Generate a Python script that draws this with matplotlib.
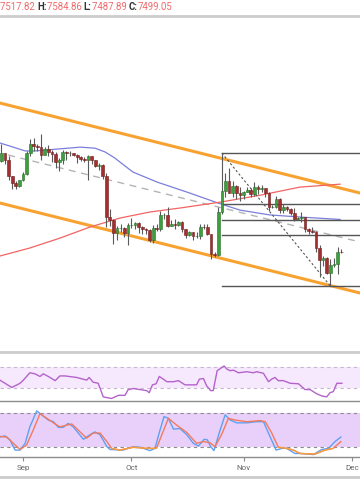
import matplotlib.pyplot as plt
import numpy as np

# 日线数据 (day 0 = Aug 25)
opens = [10140, 10130, 10360, 10170, 9710, 9490, 9420, 9580, 9760, 10380,
         10620, 10580, 10550, 10310, 10480, 10400, 10330, 10100, 10160, 10410,
         10360, 10360, 10310, 10260, 10190, 10160, 10270, 10170, 9990, 10030,
         9700, 8530, 8430, 8060, 8190, 8210, 8050, 8300, 8300, 8340,
         8220, 8160, 8150, 7870, 8210, 8180, 8590, 8590, 8260, 8310,
         8280, 8370, 8160, 8000, 8080, 7960, 7960, 8240, 8230, 8020,
         7460, 7430, 8660, 9260, 9550, 9220, 9430, 9200, 9150, 9250,
         9310, 9190, 9400, 9320, 9350, 9210, 8800, 8810, 9040, 8730,
         8820, 8760, 8640, 8470, 8500, 8510, 8170, 8120, 8080, 7620,
         7290, 7330, 6910, 7130, 7160, 7518]
highs = [10290, 10620, 10380, 10280, 9720, 9560, 9600, 9820, 10440, 10780,
         10800, 10640, 10920, 10550, 10600, 10470, 10400, 10220, 10450, 10440,
         10420, 10380, 10350, 10270, 10260, 10300, 10270, 10170, 10090, 10040,
         9780, 8740, 8450, 8260, 8320, 8220, 8350, 8480, 8380, 8370,
         8260, 8200, 8170, 8300, 8330, 8680, 8640, 8800, 8420, 8460,
         8400, 8400, 8170, 8120, 8100, 8100, 8310, 8330, 8310, 8040,
         7500, 8800, 10370, 9800, 9950, 9560, 9440, 9400, 9280, 9380,
         9370, 9530, 9460, 9440, 9370, 9230, 8880, 9130, 9070, 8900,
         8840, 8790, 8770, 8530, 8660, 8510, 8200, 8220, 8120, 7700,
         7380, 7360, 7300, 7340, 7650, 7585]
lows = [9920, 10120, 10050, 9600, 9330, 9330, 9400, 9550, 9740, 10290,
        10420, 10430, 10160, 10300, 10290, 10120, 9940, 9860, 10060, 10160,
        10290, 10290, 10080, 10140, 10120, 9600, 10050, 9970, 9870, 9620,
        8240, 8270, 7750, 7860, 8080, 7950, 7720, 8200, 8180, 8070,
        8020, 8040, 7800, 7780, 8120, 8120, 8460, 8230, 8250, 8180,
        8250, 8100, 7920, 7960, 7850, 7900, 7880, 8160, 8000, 7300,
        7360, 7400, 8600, 9100, 9200, 9100, 9040, 8980, 9050, 9230,
        9100, 9140, 9180, 9250, 9100, 8700, 8770, 8770, 8630, 8650,
        8700, 8580, 8400, 8420, 8390, 8080, 8020, 8050, 7500, 6800,
        7100, 6860, 6526, 7070, 6870, 7488]
closes = opens[1:] + [7499]

# 均线
ma50_x = [0.6, 3.4, 7.6, 10.3, 17.2, 22.8, 26.9, 29.7, 32.4, 33.8, 37.4, 44.1,
          53.2, 60.9, 67.0, 75.3, 83.6, 94.7]
ma50_y = [10660, 10570, 10430, 10430, 10490, 10540, 10510, 10400, 10225, 10110,
          9820, 9530, 9210, 8925, 8720, 8580, 8520, 8450]
ma200_x = [0.6, 8.9, 17.2, 25.5, 33.8, 42.1, 50.4, 61.5, 72.6, 83.6, 94.7]
ma200_y = [7393, 7625, 7910, 8230, 8490, 8665, 8780, 8950, 9150, 9385, 9470]

# 通道 / 趋势线 / 斐波那契
chan_x = [0.6, 100.2]
chan_top = [11815, 9214]
chan_bot = [8925, 6324]
trend_x = [2.9, 100.2]
trend_y = [10312, 7798]
fib_x0 = 62
fib_levels = [10370, 8902, 8448, 7994, 6526]
fib_diag_x = [62, 92]
fib_diag_y = [10370, 6526]

# RSI
rsi_x = [0.6, 3.9, 6.2, 7.1, 8.9, 10.3, 11.7, 12.6, 14.0, 15.9, 17.2, 18.6,
         21.9, 24.6, 25.3, 26.4, 27.8, 29.2, 31.5, 33.4, 35.2, 36.1, 37.5,
         41.2, 41.9, 42.8, 43.8, 44.7, 46.8, 48.6, 50.0, 51.8, 53.7, 55.0,
         55.8, 56.9, 57.8, 58.9, 59.6, 60.7, 62.6, 63.4, 64.3, 65.2, 66.6,
         68.9, 70.7, 71.6, 73.5, 74.9, 75.8, 76.7, 77.6, 79.0, 80.9, 83.2,
         85.0, 86.4, 88.2, 89.6, 91.0, 91.9, 92.8, 93.8, 95.2]
rsi_y = [45, 31, 39, 45, 59, 57, 52, 57, 52, 44, 53, 53,
         50, 45, 50, 41, 39, 13, 10, 16, 16, 27, 29,
         25, 21, 36, 38, 52, 42, 42, 44, 36, 36, 36,
         47, 48, 34, 25, 25, 63, 72, 66, 63, 64, 59,
         61, 59, 61, 58, 42, 47, 50, 44, 44, 39, 38,
         27, 27, 19, 15, 13, 21, 23, 39, 39]

# Stochastic
k_x = [0.6, 2.0, 3.4, 4.8, 6.2, 7.6, 8.9, 10.8, 12.2, 14.0, 15.4, 16.8, 18.1,
       19.5, 20.9, 23.7, 25.5, 26.9, 28.3, 30.2, 31.1, 34.7, 37.5, 39.4, 42.1,
       43.5, 44.7, 46.0, 47.2, 48.6, 50.4, 52.3, 54.1, 55.5, 57.1, 58.0, 58.9,
       59.8, 61.5, 62.9, 64.3, 66.1, 68.9, 71.6, 73.5, 75.3, 77.0, 78.6, 79.9,
       82.2, 84.1, 87.3, 89.6, 91.5, 93.3, 94.9]
k_y = [38, 40, 33, 15, 15, 27, 56, 84, 77, 68, 65, 55, 55,
       62, 56, 34, 42, 47, 42, 21, 16, 15, 21, 20, 14,
       18, 46, 74, 71, 52, 53, 42, 27, 22, 34, 33, 21,
       14, 50, 77, 68, 63, 63, 65, 65, 39, 15, 18, 18,
       9, 9, 7, 16, 18, 30, 38]
d_x = [0.6, 2.5, 4.3, 6.2, 8.0, 9.8, 11.7, 13.6, 15.4, 17.2, 19.1, 20.5,
       22.3, 24.6, 26.4, 28.3, 30.2, 31.5, 33.8, 37.5, 41.2, 43.9, 45.4,
       47.2, 49.5, 52.3, 55.0, 56.9, 58.7, 60.1, 61.9, 63.8, 65.6, 68.9,
       72.6, 74.0, 75.8, 77.6, 79.9, 81.8, 83.6, 87.8, 90.5, 92.8, 94.9]
d_y = [39, 38, 27, 16, 24, 50, 79, 71, 63, 56, 59, 61,
       50, 36, 45, 45, 30, 18, 15, 20, 18, 18, 42,
       71, 59, 46, 27, 30, 28, 21, 42, 71, 68, 65,
       67, 65, 45, 20, 18, 15, 9, 8, 15, 18, 30]

month_ticks = [7, 37, 68, 98]
month_labels = ['Sep', 'Oct', 'Nov', 'Dec']

W, H = 360, 504
fig = plt.figure(figsize=(W / 100, H / 100), dpi=100)


def rect(top, bottom):
    return [0, 1 - bottom / H, 1, (bottom - top) / H]


def hline(y, color, lw):
    fig.add_artist(plt.Line2D([0, 1], [1 - y / H, 1 - y / H], color=color,
                              lw=lw, transform=fig.transFigure))


ax = fig.add_axes(rect(16, 352))
ax_rsi = fig.add_axes(rect(352, 401))
ax_sto = fig.add_axes(rect(401, 457))
xlim = (0.64, 100.2)
for a in (ax, ax_rsi, ax_sto):
    a.set_xlim(*xlim)
    for s in a.spines.values():
        s.set_visible(False)
    a.set_yticks([])
    a.set_xticks([])
    a.set_facecolor('none')

# 主图
ax.set_ylim(4619, 14330)
ax.plot(chan_x, chan_top, color='#f8a232', lw=2.2, zorder=2)
ax.plot(chan_x, chan_bot, color='#f8a232', lw=2.2, zorder=2)
ax.plot(trend_x, trend_y, color='#b4b4b4', lw=1, dashes=(5, 4), zorder=1)
ax.plot(ma50_x, ma50_y, color='#7b7fdc', lw=0.9, zorder=2)
ax.plot(ma200_x, ma200_y, color='#f26464', lw=0.9, zorder=2)
for lv in fib_levels:
    ax.plot([fib_x0, xlim[1]], [lv, lv], color='#555555', lw=1, zorder=3)
ax.plot(fib_diag_x, fib_diag_y, color='#555555', lw=0.8, dashes=(2, 2),
        zorder=3)

days = np.arange(len(opens))
o = np.array(opens)
c = np.array(closes)
up = c >= o
ax.vlines(days, lows, highs, color='#5a5a5a', lw=0.8, zorder=4)
ax.bar(days[up], (c - o)[up], bottom=o[up], width=0.75, color='#3c9e3c',
       edgecolor='#2a6e2a', lw=0.4, zorder=5)
ax.bar(days[~up], (o - c)[~up], bottom=c[~up], width=0.75, color='#a52f2f',
       edgecolor='#6e1e1e', lw=0.4, zorder=5)

# RSI
ax_rsi.set_ylim(5.2, 98.6)
ax_rsi.axhspan(30, 70, color='#f6e8fd', lw=0)
for v in (30, 70):
    ax_rsi.axhline(v, color='#c8b6cf', lw=0.8, dashes=(3, 3))
ax_rsi.plot(rsi_x, rsi_y, color='#b463cc', lw=1)

# Stochastic
ax_sto.set_ylim(2.8, 101.5)
ax_sto.axhspan(20, 80, color='#e9d0fb', lw=0)
for v in (20, 80):
    ax_sto.axhline(v, color='#8c8c8c', lw=0.8, dashes=(3, 3))
ax_sto.plot(k_x, k_y, color='#5fa0f2', lw=1)
ax_sto.plot(d_x, d_y, color='#f27a5e', lw=1)
d_arr = np.array(d_y, dtype=float)
ax_sto.plot(d_x, np.where(d_arr <= 21, d_arr, np.nan), color='#f5a040', lw=1)
ax_sto.set_xticks(month_ticks, month_labels)
ax_sto.tick_params(axis='x', length=3, color='#888888', labelsize=5.8,
                   labelcolor='#666666', pad=2.5)
for lb in ax_sto.get_xticklabels():
    lb.set_fontfamily('Roboto')

# 分隔线
hline(15.5, '#cccccc', 2)
hline(352, '#cccccc', 2)
hline(401, '#8c8c8c', 1)
hline(457, '#8c8c8c', 1)
hline(477, '#cccccc', 2)

# 顶部 OHLC 文字
parts = [('7517.82 ', '#ee6b6b', 'normal'), ('H:', '#333333', 'bold'),
         ('7584.86 ', '#ee6b6b', 'normal'), ('L:', '#333333', 'bold'),
         ('7487.89 ', '#ee6b6b', 'normal'), ('C:', '#333333', 'bold'),
         ('7499.05', '#ee6b6b', 'normal')]
renderer = fig.canvas.get_renderer()
xpos = 0.0
for s, col, wt in parts:
    t = fig.text(xpos / W, 1 - 10 / H, s, color=col, fontsize=6.9,
                 family='Roboto', fontweight=wt, va='baseline', ha='left')
    xpos += t.get_window_extent(renderer).width

fig.savefig('out.png', dpi=100)
